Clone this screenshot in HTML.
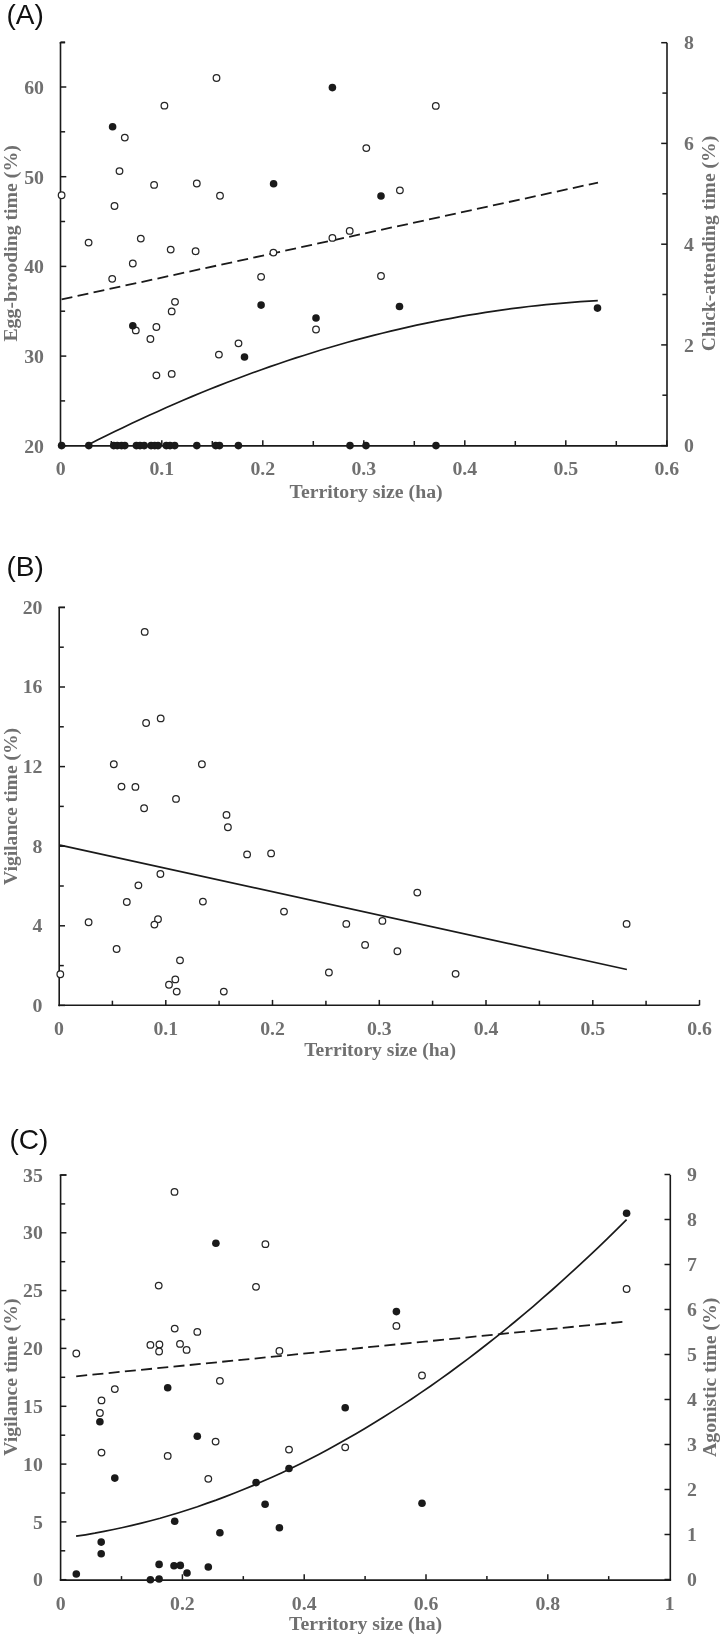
<!DOCTYPE html>
<html><head><meta charset="utf-8"><style>
html,body{margin:0;padding:0;background:#fff;width:722px;height:1637px;overflow:hidden}
svg{display:block}
</style></head><body>
<svg width="722" height="1637" viewBox="0 0 722 1637" style="will-change:transform">
<rect width="722" height="1637" fill="#fff"/>
<text x="8.0" y="23.5" text-anchor="start" font-family="'Liberation Sans', sans-serif" font-weight="normal" font-size="28" fill="#111" dx="-1.5">(A)</text>
<line x1="60.5" y1="42.7" x2="60.5" y2="446.5" stroke="#1a1a1a" stroke-width="1.6" />
<line x1="667.0" y1="42.7" x2="667.0" y2="446.5" stroke="#1a1a1a" stroke-width="1.6" />
<line x1="59.7" y1="445.9" x2="667.8" y2="445.9" stroke="#1a1a1a" stroke-width="1.6" />
<line x1="60.5" y1="445.8" x2="66.3" y2="445.8" stroke="#1a1a1a" stroke-width="1.5" />
<text x="44.0" y="452.6" text-anchor="end" font-family="'Liberation Serif', serif" font-weight="bold" font-size="19.8" fill="#707070" >20</text>
<line x1="60.5" y1="400.9" x2="65.1" y2="400.9" stroke="#1a1a1a" stroke-width="1.5" />
<line x1="60.5" y1="356.1" x2="66.3" y2="356.1" stroke="#1a1a1a" stroke-width="1.5" />
<text x="44.0" y="362.9" text-anchor="end" font-family="'Liberation Serif', serif" font-weight="bold" font-size="19.8" fill="#707070" >30</text>
<line x1="60.5" y1="311.2" x2="65.1" y2="311.2" stroke="#1a1a1a" stroke-width="1.5" />
<line x1="60.5" y1="266.4" x2="66.3" y2="266.4" stroke="#1a1a1a" stroke-width="1.5" />
<text x="44.0" y="273.2" text-anchor="end" font-family="'Liberation Serif', serif" font-weight="bold" font-size="19.8" fill="#707070" >40</text>
<line x1="60.5" y1="221.5" x2="65.1" y2="221.5" stroke="#1a1a1a" stroke-width="1.5" />
<line x1="60.5" y1="176.7" x2="66.3" y2="176.7" stroke="#1a1a1a" stroke-width="1.5" />
<text x="44.0" y="183.5" text-anchor="end" font-family="'Liberation Serif', serif" font-weight="bold" font-size="19.8" fill="#707070" >50</text>
<line x1="60.5" y1="131.8" x2="65.1" y2="131.8" stroke="#1a1a1a" stroke-width="1.5" />
<line x1="60.5" y1="87.0" x2="66.3" y2="87.0" stroke="#1a1a1a" stroke-width="1.5" />
<text x="44.0" y="93.8" text-anchor="end" font-family="'Liberation Serif', serif" font-weight="bold" font-size="19.8" fill="#707070" >60</text>
<line x1="60.5" y1="42.1" x2="65.1" y2="42.1" stroke="#1a1a1a" stroke-width="1.5" />
<line x1="59.6" y1="42.7" x2="65.1" y2="42.7" stroke="#1a1a1a" stroke-width="1.5" />
<line x1="661.2" y1="445.6" x2="667.0" y2="445.6" stroke="#1a1a1a" stroke-width="1.5" />
<text x="684.0" y="452.2" text-anchor="start" font-family="'Liberation Serif', serif" font-weight="bold" font-size="19.8" fill="#707070" >0</text>
<line x1="662.4" y1="395.2" x2="667.0" y2="395.2" stroke="#1a1a1a" stroke-width="1.5" />
<line x1="661.2" y1="344.9" x2="667.0" y2="344.9" stroke="#1a1a1a" stroke-width="1.5" />
<text x="684.0" y="351.5" text-anchor="start" font-family="'Liberation Serif', serif" font-weight="bold" font-size="19.8" fill="#707070" >2</text>
<line x1="662.4" y1="294.5" x2="667.0" y2="294.5" stroke="#1a1a1a" stroke-width="1.5" />
<line x1="661.2" y1="244.2" x2="667.0" y2="244.2" stroke="#1a1a1a" stroke-width="1.5" />
<text x="684.0" y="250.8" text-anchor="start" font-family="'Liberation Serif', serif" font-weight="bold" font-size="19.8" fill="#707070" >4</text>
<line x1="662.4" y1="193.8" x2="667.0" y2="193.8" stroke="#1a1a1a" stroke-width="1.5" />
<line x1="661.2" y1="143.4" x2="667.0" y2="143.4" stroke="#1a1a1a" stroke-width="1.5" />
<text x="684.0" y="150.0" text-anchor="start" font-family="'Liberation Serif', serif" font-weight="bold" font-size="19.8" fill="#707070" >6</text>
<line x1="662.4" y1="93.1" x2="667.0" y2="93.1" stroke="#1a1a1a" stroke-width="1.5" />
<line x1="661.2" y1="42.7" x2="667.0" y2="42.7" stroke="#1a1a1a" stroke-width="1.5" />
<text x="684.0" y="49.3" text-anchor="start" font-family="'Liberation Serif', serif" font-weight="bold" font-size="19.8" fill="#707070" >8</text>
<line x1="111.3" y1="445.6" x2="111.3" y2="441.0" stroke="#1a1a1a" stroke-width="1.5" />
<line x1="161.8" y1="445.6" x2="161.8" y2="440.2" stroke="#1a1a1a" stroke-width="1.5" />
<line x1="212.3" y1="445.6" x2="212.3" y2="441.0" stroke="#1a1a1a" stroke-width="1.5" />
<line x1="262.8" y1="445.6" x2="262.8" y2="440.2" stroke="#1a1a1a" stroke-width="1.5" />
<line x1="313.3" y1="445.6" x2="313.3" y2="441.0" stroke="#1a1a1a" stroke-width="1.5" />
<line x1="363.8" y1="445.6" x2="363.8" y2="440.2" stroke="#1a1a1a" stroke-width="1.5" />
<line x1="414.3" y1="445.6" x2="414.3" y2="441.0" stroke="#1a1a1a" stroke-width="1.5" />
<line x1="464.8" y1="445.6" x2="464.8" y2="440.2" stroke="#1a1a1a" stroke-width="1.5" />
<line x1="515.3" y1="445.6" x2="515.3" y2="441.0" stroke="#1a1a1a" stroke-width="1.5" />
<line x1="565.8" y1="445.6" x2="565.8" y2="440.2" stroke="#1a1a1a" stroke-width="1.5" />
<line x1="616.3" y1="445.6" x2="616.3" y2="441.0" stroke="#1a1a1a" stroke-width="1.5" />
<line x1="666.8" y1="445.6" x2="666.8" y2="440.2" stroke="#1a1a1a" stroke-width="1.5" />
<text x="60.8" y="475.2" text-anchor="middle" font-family="'Liberation Serif', serif" font-weight="bold" font-size="19.8" fill="#707070" >0</text>
<text x="161.8" y="475.2" text-anchor="middle" font-family="'Liberation Serif', serif" font-weight="bold" font-size="19.8" fill="#707070" >0.1</text>
<text x="262.8" y="475.2" text-anchor="middle" font-family="'Liberation Serif', serif" font-weight="bold" font-size="19.8" fill="#707070" >0.2</text>
<text x="363.8" y="475.2" text-anchor="middle" font-family="'Liberation Serif', serif" font-weight="bold" font-size="19.8" fill="#707070" >0.3</text>
<text x="464.8" y="475.2" text-anchor="middle" font-family="'Liberation Serif', serif" font-weight="bold" font-size="19.8" fill="#707070" >0.4</text>
<text x="565.8" y="475.2" text-anchor="middle" font-family="'Liberation Serif', serif" font-weight="bold" font-size="19.8" fill="#707070" >0.5</text>
<text x="666.8" y="475.2" text-anchor="middle" font-family="'Liberation Serif', serif" font-weight="bold" font-size="19.8" fill="#707070" >0.6</text>
<text x="366.1" y="498.4" text-anchor="middle" font-family="'Liberation Serif', serif" font-weight="bold" font-size="19.8" fill="#707070" >Territory size (ha)</text>
<text x="0.0" y="0.0" text-anchor="middle" font-family="'Liberation Serif', serif" font-weight="bold" font-size="19.8" fill="#707070" transform="translate(16.8,243.4) rotate(-90)">Egg-brooding time (%)</text>
<text x="0.0" y="0.0" text-anchor="middle" font-family="'Liberation Serif', serif" font-weight="bold" font-size="19.6" fill="#707070" transform="translate(714.6,243.6) rotate(-90)">Chick-attending time (%)</text>
<path d="M61.6,299.4 L598.0,182.6" fill="none" stroke="#1a1a1a" stroke-width="1.8" stroke-dasharray="11,5.35"/>
<path d="M88.8,444.5 L97.4,440.1 L106.1,435.8 L114.7,431.6 L123.3,427.4 L131.9,423.3 L140.6,419.2 L149.2,415.3 L157.8,411.4 L166.4,407.5 L175.1,403.7 L183.7,400.0 L192.3,396.4 L201.0,392.8 L209.6,389.3 L218.2,385.9 L226.8,382.5 L235.5,379.2 L244.1,376.0 L252.7,372.8 L261.3,369.7 L270.0,366.6 L278.6,363.7 L287.2,360.8 L295.9,357.9 L304.5,355.2 L313.1,352.5 L321.7,349.8 L330.4,347.2 L339.0,344.7 L347.6,342.3 L356.2,339.9 L364.9,337.6 L373.5,335.4 L382.1,333.2 L390.7,331.1 L399.4,329.1 L408.0,327.1 L416.6,325.2 L425.3,323.4 L433.9,321.6 L442.5,319.9 L451.1,318.3 L459.8,316.7 L468.4,315.2 L477.0,313.8 L485.6,312.4 L494.3,311.1 L502.9,309.8 L511.5,308.7 L520.2,307.6 L528.8,306.5 L537.4,305.6 L546.0,304.7 L554.7,303.8 L563.3,303.1 L571.9,302.4 L580.5,301.7 L589.2,301.2 L597.8,300.7" fill="none" stroke="#1a1a1a" stroke-width="1.7" />
<circle cx="88.6" cy="242.6" r="3.3" fill="#fff" stroke="#262626" stroke-width="1.25"/>
<circle cx="140.8" cy="238.6" r="3.3" fill="#fff" stroke="#262626" stroke-width="1.25"/>
<circle cx="170.7" cy="249.6" r="3.3" fill="#fff" stroke="#262626" stroke-width="1.25"/>
<circle cx="195.6" cy="251.2" r="3.3" fill="#fff" stroke="#262626" stroke-width="1.25"/>
<circle cx="273.4" cy="252.6" r="3.3" fill="#fff" stroke="#262626" stroke-width="1.25"/>
<circle cx="132.8" cy="263.5" r="3.3" fill="#fff" stroke="#262626" stroke-width="1.25"/>
<circle cx="112.2" cy="278.8" r="3.3" fill="#fff" stroke="#262626" stroke-width="1.25"/>
<circle cx="261.1" cy="276.8" r="3.3" fill="#fff" stroke="#262626" stroke-width="1.25"/>
<circle cx="175.0" cy="301.8" r="3.3" fill="#fff" stroke="#262626" stroke-width="1.25"/>
<circle cx="171.7" cy="311.4" r="3.3" fill="#fff" stroke="#262626" stroke-width="1.25"/>
<circle cx="135.8" cy="330.4" r="3.3" fill="#fff" stroke="#262626" stroke-width="1.25"/>
<circle cx="156.4" cy="327.0" r="3.3" fill="#fff" stroke="#262626" stroke-width="1.25"/>
<circle cx="150.4" cy="339.0" r="3.3" fill="#fff" stroke="#262626" stroke-width="1.25"/>
<circle cx="238.5" cy="343.3" r="3.3" fill="#fff" stroke="#262626" stroke-width="1.25"/>
<circle cx="218.9" cy="354.6" r="3.3" fill="#fff" stroke="#262626" stroke-width="1.25"/>
<circle cx="156.4" cy="375.3" r="3.3" fill="#fff" stroke="#262626" stroke-width="1.25"/>
<circle cx="171.7" cy="373.9" r="3.3" fill="#fff" stroke="#262626" stroke-width="1.25"/>
<circle cx="124.8" cy="137.6" r="3.3" fill="#fff" stroke="#262626" stroke-width="1.25"/>
<circle cx="164.4" cy="105.7" r="3.3" fill="#fff" stroke="#262626" stroke-width="1.25"/>
<circle cx="216.5" cy="78.0" r="3.3" fill="#fff" stroke="#262626" stroke-width="1.25"/>
<circle cx="119.5" cy="171.1" r="3.3" fill="#fff" stroke="#262626" stroke-width="1.25"/>
<circle cx="154.1" cy="184.9" r="3.3" fill="#fff" stroke="#262626" stroke-width="1.25"/>
<circle cx="196.8" cy="183.5" r="3.3" fill="#fff" stroke="#262626" stroke-width="1.25"/>
<circle cx="220.0" cy="195.7" r="3.3" fill="#fff" stroke="#262626" stroke-width="1.25"/>
<circle cx="61.6" cy="195.2" r="3.3" fill="#fff" stroke="#262626" stroke-width="1.25"/>
<circle cx="114.5" cy="206.0" r="3.3" fill="#fff" stroke="#262626" stroke-width="1.25"/>
<circle cx="435.8" cy="105.9" r="3.3" fill="#fff" stroke="#262626" stroke-width="1.25"/>
<circle cx="366.3" cy="148.1" r="3.3" fill="#fff" stroke="#262626" stroke-width="1.25"/>
<circle cx="399.9" cy="190.3" r="3.3" fill="#fff" stroke="#262626" stroke-width="1.25"/>
<circle cx="349.7" cy="230.9" r="3.3" fill="#fff" stroke="#262626" stroke-width="1.25"/>
<circle cx="332.4" cy="237.9" r="3.3" fill="#fff" stroke="#262626" stroke-width="1.25"/>
<circle cx="381.0" cy="276.0" r="3.3" fill="#fff" stroke="#262626" stroke-width="1.25"/>
<circle cx="316.0" cy="329.5" r="3.3" fill="#fff" stroke="#262626" stroke-width="1.25"/>
<circle cx="112.6" cy="126.8" r="3.8" fill="#1a1a1a"/>
<circle cx="332.4" cy="87.6" r="3.8" fill="#1a1a1a"/>
<circle cx="273.6" cy="183.7" r="3.8" fill="#1a1a1a"/>
<circle cx="381.0" cy="196.0" r="3.8" fill="#1a1a1a"/>
<circle cx="261.1" cy="305.1" r="3.8" fill="#1a1a1a"/>
<circle cx="132.8" cy="325.7" r="3.8" fill="#1a1a1a"/>
<circle cx="244.5" cy="357.0" r="3.8" fill="#1a1a1a"/>
<circle cx="316.0" cy="318.0" r="3.8" fill="#1a1a1a"/>
<circle cx="399.5" cy="306.5" r="3.8" fill="#1a1a1a"/>
<circle cx="597.5" cy="308.1" r="3.8" fill="#1a1a1a"/>
<circle cx="61.6" cy="445.6" r="3.8" fill="#1a1a1a"/>
<circle cx="88.8" cy="445.6" r="3.8" fill="#1a1a1a"/>
<circle cx="113.7" cy="445.6" r="3.8" fill="#1a1a1a"/>
<circle cx="117.3" cy="445.6" r="3.8" fill="#1a1a1a"/>
<circle cx="121.5" cy="445.6" r="3.8" fill="#1a1a1a"/>
<circle cx="124.8" cy="445.6" r="3.8" fill="#1a1a1a"/>
<circle cx="136.4" cy="445.6" r="3.8" fill="#1a1a1a"/>
<circle cx="140.0" cy="445.6" r="3.8" fill="#1a1a1a"/>
<circle cx="144.2" cy="445.6" r="3.8" fill="#1a1a1a"/>
<circle cx="151.1" cy="445.6" r="3.8" fill="#1a1a1a"/>
<circle cx="154.7" cy="445.6" r="3.8" fill="#1a1a1a"/>
<circle cx="158.0" cy="445.6" r="3.8" fill="#1a1a1a"/>
<circle cx="166.3" cy="445.6" r="3.8" fill="#1a1a1a"/>
<circle cx="170.0" cy="445.6" r="3.8" fill="#1a1a1a"/>
<circle cx="174.7" cy="445.6" r="3.8" fill="#1a1a1a"/>
<circle cx="196.8" cy="445.6" r="3.8" fill="#1a1a1a"/>
<circle cx="215.7" cy="445.6" r="3.8" fill="#1a1a1a"/>
<circle cx="219.5" cy="445.6" r="3.8" fill="#1a1a1a"/>
<circle cx="238.4" cy="445.6" r="3.8" fill="#1a1a1a"/>
<circle cx="350.0" cy="445.6" r="3.8" fill="#1a1a1a"/>
<circle cx="366.0" cy="445.6" r="3.8" fill="#1a1a1a"/>
<circle cx="436.0" cy="445.6" r="3.8" fill="#1a1a1a"/>
<text x="8.0" y="576.4" text-anchor="start" font-family="'Liberation Sans', sans-serif" font-weight="normal" font-size="28" fill="#111" dx="-1.5">(B)</text>
<line x1="59.2" y1="607.4" x2="59.2" y2="1006.2" stroke="#1a1a1a" stroke-width="1.6" />
<line x1="58.3" y1="1005.3" x2="699.5" y2="1005.3" stroke="#1a1a1a" stroke-width="1.6" />
<line x1="59.2" y1="1005.4" x2="65.0" y2="1005.4" stroke="#1a1a1a" stroke-width="1.5" />
<text x="42.5" y="1011.8" text-anchor="end" font-family="'Liberation Serif', serif" font-weight="bold" font-size="19.8" fill="#707070" >0</text>
<line x1="59.2" y1="965.6" x2="63.8" y2="965.6" stroke="#1a1a1a" stroke-width="1.5" />
<line x1="59.2" y1="925.8" x2="65.0" y2="925.8" stroke="#1a1a1a" stroke-width="1.5" />
<text x="42.5" y="932.2" text-anchor="end" font-family="'Liberation Serif', serif" font-weight="bold" font-size="19.8" fill="#707070" >4</text>
<line x1="59.2" y1="886.0" x2="63.8" y2="886.0" stroke="#1a1a1a" stroke-width="1.5" />
<line x1="59.2" y1="846.2" x2="65.0" y2="846.2" stroke="#1a1a1a" stroke-width="1.5" />
<text x="42.5" y="852.6" text-anchor="end" font-family="'Liberation Serif', serif" font-weight="bold" font-size="19.8" fill="#707070" >8</text>
<line x1="59.2" y1="806.4" x2="63.8" y2="806.4" stroke="#1a1a1a" stroke-width="1.5" />
<line x1="59.2" y1="766.6" x2="65.0" y2="766.6" stroke="#1a1a1a" stroke-width="1.5" />
<text x="42.5" y="773.0" text-anchor="end" font-family="'Liberation Serif', serif" font-weight="bold" font-size="19.8" fill="#707070" >12</text>
<line x1="59.2" y1="726.8" x2="63.8" y2="726.8" stroke="#1a1a1a" stroke-width="1.5" />
<line x1="59.2" y1="687.0" x2="65.0" y2="687.0" stroke="#1a1a1a" stroke-width="1.5" />
<text x="42.5" y="693.4" text-anchor="end" font-family="'Liberation Serif', serif" font-weight="bold" font-size="19.8" fill="#707070" >16</text>
<line x1="59.2" y1="647.2" x2="63.8" y2="647.2" stroke="#1a1a1a" stroke-width="1.5" />
<line x1="59.2" y1="607.4" x2="65.0" y2="607.4" stroke="#1a1a1a" stroke-width="1.5" />
<text x="42.5" y="613.8" text-anchor="end" font-family="'Liberation Serif', serif" font-weight="bold" font-size="19.8" fill="#707070" >20</text>
<line x1="58.3" y1="607.4" x2="65.0" y2="607.4" stroke="#1a1a1a" stroke-width="1.5" />
<line x1="112.4" y1="1005.3" x2="112.4" y2="1000.7" stroke="#1a1a1a" stroke-width="1.5" />
<line x1="165.8" y1="1005.3" x2="165.8" y2="999.9" stroke="#1a1a1a" stroke-width="1.5" />
<line x1="219.1" y1="1005.3" x2="219.1" y2="1000.7" stroke="#1a1a1a" stroke-width="1.5" />
<line x1="272.5" y1="1005.3" x2="272.5" y2="999.9" stroke="#1a1a1a" stroke-width="1.5" />
<line x1="325.9" y1="1005.3" x2="325.9" y2="1000.7" stroke="#1a1a1a" stroke-width="1.5" />
<line x1="379.3" y1="1005.3" x2="379.3" y2="999.9" stroke="#1a1a1a" stroke-width="1.5" />
<line x1="432.6" y1="1005.3" x2="432.6" y2="1000.7" stroke="#1a1a1a" stroke-width="1.5" />
<line x1="486.0" y1="1005.3" x2="486.0" y2="999.9" stroke="#1a1a1a" stroke-width="1.5" />
<line x1="539.4" y1="1005.3" x2="539.4" y2="1000.7" stroke="#1a1a1a" stroke-width="1.5" />
<line x1="592.8" y1="1005.3" x2="592.8" y2="999.9" stroke="#1a1a1a" stroke-width="1.5" />
<line x1="646.1" y1="1005.3" x2="646.1" y2="1000.7" stroke="#1a1a1a" stroke-width="1.5" />
<line x1="699.5" y1="1005.3" x2="699.5" y2="999.9" stroke="#1a1a1a" stroke-width="1.5" />
<text x="59.0" y="1035.2" text-anchor="middle" font-family="'Liberation Serif', serif" font-weight="bold" font-size="19.8" fill="#707070" >0</text>
<text x="165.8" y="1035.2" text-anchor="middle" font-family="'Liberation Serif', serif" font-weight="bold" font-size="19.8" fill="#707070" >0.1</text>
<text x="272.5" y="1035.2" text-anchor="middle" font-family="'Liberation Serif', serif" font-weight="bold" font-size="19.8" fill="#707070" >0.2</text>
<text x="379.3" y="1035.2" text-anchor="middle" font-family="'Liberation Serif', serif" font-weight="bold" font-size="19.8" fill="#707070" >0.3</text>
<text x="486.0" y="1035.2" text-anchor="middle" font-family="'Liberation Serif', serif" font-weight="bold" font-size="19.8" fill="#707070" >0.4</text>
<text x="592.8" y="1035.2" text-anchor="middle" font-family="'Liberation Serif', serif" font-weight="bold" font-size="19.8" fill="#707070" >0.5</text>
<text x="699.5" y="1035.2" text-anchor="middle" font-family="'Liberation Serif', serif" font-weight="bold" font-size="19.8" fill="#707070" >0.6</text>
<text x="380.1" y="1056.4" text-anchor="middle" font-family="'Liberation Serif', serif" font-weight="bold" font-size="19.6" fill="#707070" >Territory size (ha)</text>
<text x="0.0" y="0.0" text-anchor="middle" font-family="'Liberation Serif', serif" font-weight="bold" font-size="19.6" fill="#707070" transform="translate(16.5,806.4) rotate(-90)">Vigilance time (%)</text>
<path d="M60.0,845.2 L626.9,969.5" fill="none" stroke="#1a1a1a" stroke-width="1.7" />
<circle cx="144.7" cy="631.9" r="3.3" fill="#fff" stroke="#262626" stroke-width="1.25"/>
<circle cx="146.1" cy="723.0" r="3.3" fill="#fff" stroke="#262626" stroke-width="1.25"/>
<circle cx="160.7" cy="718.4" r="3.3" fill="#fff" stroke="#262626" stroke-width="1.25"/>
<circle cx="113.8" cy="764.2" r="3.3" fill="#fff" stroke="#262626" stroke-width="1.25"/>
<circle cx="201.9" cy="764.2" r="3.3" fill="#fff" stroke="#262626" stroke-width="1.25"/>
<circle cx="121.5" cy="786.6" r="3.3" fill="#fff" stroke="#262626" stroke-width="1.25"/>
<circle cx="135.4" cy="786.9" r="3.3" fill="#fff" stroke="#262626" stroke-width="1.25"/>
<circle cx="144.1" cy="808.2" r="3.3" fill="#fff" stroke="#262626" stroke-width="1.25"/>
<circle cx="176.0" cy="798.9" r="3.3" fill="#fff" stroke="#262626" stroke-width="1.25"/>
<circle cx="226.5" cy="814.9" r="3.3" fill="#fff" stroke="#262626" stroke-width="1.25"/>
<circle cx="227.9" cy="827.2" r="3.3" fill="#fff" stroke="#262626" stroke-width="1.25"/>
<circle cx="247.1" cy="854.4" r="3.3" fill="#fff" stroke="#262626" stroke-width="1.25"/>
<circle cx="271.1" cy="853.4" r="3.3" fill="#fff" stroke="#262626" stroke-width="1.25"/>
<circle cx="160.4" cy="874.0" r="3.3" fill="#fff" stroke="#262626" stroke-width="1.25"/>
<circle cx="138.4" cy="885.3" r="3.3" fill="#fff" stroke="#262626" stroke-width="1.25"/>
<circle cx="126.8" cy="902.0" r="3.3" fill="#fff" stroke="#262626" stroke-width="1.25"/>
<circle cx="202.9" cy="901.6" r="3.3" fill="#fff" stroke="#262626" stroke-width="1.25"/>
<circle cx="284.0" cy="911.6" r="3.3" fill="#fff" stroke="#262626" stroke-width="1.25"/>
<circle cx="88.6" cy="922.2" r="3.3" fill="#fff" stroke="#262626" stroke-width="1.25"/>
<circle cx="158.0" cy="919.2" r="3.3" fill="#fff" stroke="#262626" stroke-width="1.25"/>
<circle cx="154.4" cy="924.6" r="3.3" fill="#fff" stroke="#262626" stroke-width="1.25"/>
<circle cx="417.3" cy="892.6" r="3.3" fill="#fff" stroke="#262626" stroke-width="1.25"/>
<circle cx="346.3" cy="923.9" r="3.3" fill="#fff" stroke="#262626" stroke-width="1.25"/>
<circle cx="382.4" cy="920.9" r="3.3" fill="#fff" stroke="#262626" stroke-width="1.25"/>
<circle cx="626.6" cy="923.9" r="3.3" fill="#fff" stroke="#262626" stroke-width="1.25"/>
<circle cx="365.1" cy="944.9" r="3.3" fill="#fff" stroke="#262626" stroke-width="1.25"/>
<circle cx="397.4" cy="951.2" r="3.3" fill="#fff" stroke="#262626" stroke-width="1.25"/>
<circle cx="328.9" cy="972.5" r="3.3" fill="#fff" stroke="#262626" stroke-width="1.25"/>
<circle cx="455.6" cy="973.8" r="3.3" fill="#fff" stroke="#262626" stroke-width="1.25"/>
<circle cx="116.6" cy="949.0" r="3.3" fill="#fff" stroke="#262626" stroke-width="1.25"/>
<circle cx="180.0" cy="960.3" r="3.3" fill="#fff" stroke="#262626" stroke-width="1.25"/>
<circle cx="175.3" cy="979.4" r="3.3" fill="#fff" stroke="#262626" stroke-width="1.25"/>
<circle cx="169.0" cy="984.7" r="3.3" fill="#fff" stroke="#262626" stroke-width="1.25"/>
<circle cx="176.7" cy="991.6" r="3.3" fill="#fff" stroke="#262626" stroke-width="1.25"/>
<circle cx="223.8" cy="991.6" r="3.3" fill="#fff" stroke="#262626" stroke-width="1.25"/>
<circle cx="60.3" cy="974.2" r="3.3" fill="#fff" stroke="#262626" stroke-width="1.25"/>
<text x="11.0" y="1148.8" text-anchor="start" font-family="'Liberation Sans', sans-serif" font-weight="normal" font-size="28" fill="#111" dx="-1.5">(C)</text>
<line x1="60.6" y1="1175.0" x2="60.6" y2="1580.6" stroke="#1a1a1a" stroke-width="1.6" />
<line x1="670.3" y1="1175.0" x2="670.3" y2="1580.6" stroke="#1a1a1a" stroke-width="1.6" />
<line x1="59.8" y1="1580.1" x2="671.1" y2="1580.1" stroke="#1a1a1a" stroke-width="1.6" />
<line x1="60.6" y1="1579.7" x2="66.4" y2="1579.7" stroke="#1a1a1a" stroke-width="1.5" />
<text x="42.8" y="1586.3" text-anchor="end" font-family="'Liberation Serif', serif" font-weight="bold" font-size="19.8" fill="#707070" >0</text>
<line x1="60.6" y1="1550.8" x2="65.2" y2="1550.8" stroke="#1a1a1a" stroke-width="1.5" />
<line x1="60.6" y1="1521.9" x2="66.4" y2="1521.9" stroke="#1a1a1a" stroke-width="1.5" />
<text x="42.8" y="1528.5" text-anchor="end" font-family="'Liberation Serif', serif" font-weight="bold" font-size="19.8" fill="#707070" >5</text>
<line x1="60.6" y1="1493.0" x2="65.2" y2="1493.0" stroke="#1a1a1a" stroke-width="1.5" />
<line x1="60.6" y1="1464.1" x2="66.4" y2="1464.1" stroke="#1a1a1a" stroke-width="1.5" />
<text x="42.8" y="1470.7" text-anchor="end" font-family="'Liberation Serif', serif" font-weight="bold" font-size="19.8" fill="#707070" >10</text>
<line x1="60.6" y1="1435.2" x2="65.2" y2="1435.2" stroke="#1a1a1a" stroke-width="1.5" />
<line x1="60.6" y1="1406.3" x2="66.4" y2="1406.3" stroke="#1a1a1a" stroke-width="1.5" />
<text x="42.8" y="1412.9" text-anchor="end" font-family="'Liberation Serif', serif" font-weight="bold" font-size="19.8" fill="#707070" >15</text>
<line x1="60.6" y1="1377.3" x2="65.2" y2="1377.3" stroke="#1a1a1a" stroke-width="1.5" />
<line x1="60.6" y1="1348.4" x2="66.4" y2="1348.4" stroke="#1a1a1a" stroke-width="1.5" />
<text x="42.8" y="1355.0" text-anchor="end" font-family="'Liberation Serif', serif" font-weight="bold" font-size="19.8" fill="#707070" >20</text>
<line x1="60.6" y1="1319.5" x2="65.2" y2="1319.5" stroke="#1a1a1a" stroke-width="1.5" />
<line x1="60.6" y1="1290.6" x2="66.4" y2="1290.6" stroke="#1a1a1a" stroke-width="1.5" />
<text x="42.8" y="1297.2" text-anchor="end" font-family="'Liberation Serif', serif" font-weight="bold" font-size="19.8" fill="#707070" >25</text>
<line x1="60.6" y1="1261.7" x2="65.2" y2="1261.7" stroke="#1a1a1a" stroke-width="1.5" />
<line x1="60.6" y1="1232.8" x2="66.4" y2="1232.8" stroke="#1a1a1a" stroke-width="1.5" />
<text x="42.8" y="1239.4" text-anchor="end" font-family="'Liberation Serif', serif" font-weight="bold" font-size="19.8" fill="#707070" >30</text>
<line x1="60.6" y1="1203.9" x2="65.2" y2="1203.9" stroke="#1a1a1a" stroke-width="1.5" />
<line x1="60.6" y1="1175.0" x2="66.4" y2="1175.0" stroke="#1a1a1a" stroke-width="1.5" />
<text x="42.8" y="1181.6" text-anchor="end" font-family="'Liberation Serif', serif" font-weight="bold" font-size="19.8" fill="#707070" >35</text>
<line x1="59.7" y1="1175.0" x2="66.4" y2="1175.0" stroke="#1a1a1a" stroke-width="1.5" />
<line x1="664.5" y1="1579.5" x2="670.3" y2="1579.5" stroke="#1a1a1a" stroke-width="1.5" />
<text x="687.0" y="1586.1" text-anchor="start" font-family="'Liberation Serif', serif" font-weight="bold" font-size="19.8" fill="#707070" >0</text>
<line x1="664.5" y1="1534.5" x2="670.3" y2="1534.5" stroke="#1a1a1a" stroke-width="1.5" />
<text x="687.0" y="1541.1" text-anchor="start" font-family="'Liberation Serif', serif" font-weight="bold" font-size="19.8" fill="#707070" >1</text>
<line x1="664.5" y1="1489.5" x2="670.3" y2="1489.5" stroke="#1a1a1a" stroke-width="1.5" />
<text x="687.0" y="1496.1" text-anchor="start" font-family="'Liberation Serif', serif" font-weight="bold" font-size="19.8" fill="#707070" >2</text>
<line x1="664.5" y1="1444.5" x2="670.3" y2="1444.5" stroke="#1a1a1a" stroke-width="1.5" />
<text x="687.0" y="1451.1" text-anchor="start" font-family="'Liberation Serif', serif" font-weight="bold" font-size="19.8" fill="#707070" >3</text>
<line x1="664.5" y1="1399.5" x2="670.3" y2="1399.5" stroke="#1a1a1a" stroke-width="1.5" />
<text x="687.0" y="1406.1" text-anchor="start" font-family="'Liberation Serif', serif" font-weight="bold" font-size="19.8" fill="#707070" >4</text>
<line x1="664.5" y1="1354.5" x2="670.3" y2="1354.5" stroke="#1a1a1a" stroke-width="1.5" />
<text x="687.0" y="1361.1" text-anchor="start" font-family="'Liberation Serif', serif" font-weight="bold" font-size="19.8" fill="#707070" >5</text>
<line x1="664.5" y1="1309.5" x2="670.3" y2="1309.5" stroke="#1a1a1a" stroke-width="1.5" />
<text x="687.0" y="1316.1" text-anchor="start" font-family="'Liberation Serif', serif" font-weight="bold" font-size="19.8" fill="#707070" >6</text>
<line x1="664.5" y1="1264.5" x2="670.3" y2="1264.5" stroke="#1a1a1a" stroke-width="1.5" />
<text x="687.0" y="1271.1" text-anchor="start" font-family="'Liberation Serif', serif" font-weight="bold" font-size="19.8" fill="#707070" >7</text>
<line x1="664.5" y1="1219.5" x2="670.3" y2="1219.5" stroke="#1a1a1a" stroke-width="1.5" />
<text x="687.0" y="1226.1" text-anchor="start" font-family="'Liberation Serif', serif" font-weight="bold" font-size="19.8" fill="#707070" >8</text>
<line x1="664.5" y1="1174.5" x2="670.3" y2="1174.5" stroke="#1a1a1a" stroke-width="1.5" />
<text x="687.0" y="1181.1" text-anchor="start" font-family="'Liberation Serif', serif" font-weight="bold" font-size="19.8" fill="#707070" >9</text>
<line x1="121.5" y1="1579.7" x2="121.5" y2="1576.1" stroke="#1a1a1a" stroke-width="1.5" />
<line x1="182.4" y1="1579.7" x2="182.4" y2="1574.3" stroke="#1a1a1a" stroke-width="1.5" />
<line x1="243.3" y1="1579.7" x2="243.3" y2="1576.1" stroke="#1a1a1a" stroke-width="1.5" />
<line x1="304.2" y1="1579.7" x2="304.2" y2="1574.3" stroke="#1a1a1a" stroke-width="1.5" />
<line x1="365.1" y1="1579.7" x2="365.1" y2="1576.1" stroke="#1a1a1a" stroke-width="1.5" />
<line x1="426.0" y1="1579.7" x2="426.0" y2="1574.3" stroke="#1a1a1a" stroke-width="1.5" />
<line x1="486.9" y1="1579.7" x2="486.9" y2="1576.1" stroke="#1a1a1a" stroke-width="1.5" />
<line x1="547.8" y1="1579.7" x2="547.8" y2="1574.3" stroke="#1a1a1a" stroke-width="1.5" />
<line x1="608.7" y1="1579.7" x2="608.7" y2="1576.1" stroke="#1a1a1a" stroke-width="1.5" />
<text x="60.6" y="1609.6" text-anchor="middle" font-family="'Liberation Serif', serif" font-weight="bold" font-size="19.8" fill="#707070" >0</text>
<text x="182.4" y="1609.6" text-anchor="middle" font-family="'Liberation Serif', serif" font-weight="bold" font-size="19.8" fill="#707070" >0.2</text>
<text x="304.2" y="1609.6" text-anchor="middle" font-family="'Liberation Serif', serif" font-weight="bold" font-size="19.8" fill="#707070" >0.4</text>
<text x="426.0" y="1609.6" text-anchor="middle" font-family="'Liberation Serif', serif" font-weight="bold" font-size="19.8" fill="#707070" >0.6</text>
<text x="547.8" y="1609.6" text-anchor="middle" font-family="'Liberation Serif', serif" font-weight="bold" font-size="19.8" fill="#707070" >0.8</text>
<text x="669.6" y="1609.6" text-anchor="middle" font-family="'Liberation Serif', serif" font-weight="bold" font-size="19.8" fill="#707070" >1</text>
<text x="365.6" y="1630.2" text-anchor="middle" font-family="'Liberation Serif', serif" font-weight="bold" font-size="19.8" fill="#707070" >Territory size (ha)</text>
<text x="0.0" y="0.0" text-anchor="middle" font-family="'Liberation Serif', serif" font-weight="bold" font-size="19.6" fill="#707070" transform="translate(16.8,1377.1) rotate(-90)">Vigilance time (%)</text>
<text x="0.0" y="0.0" text-anchor="middle" font-family="'Liberation Serif', serif" font-weight="bold" font-size="19.8" fill="#707070" transform="translate(716,1377.3) rotate(-90)">Agonistic time (%)</text>
<path d="M76.2,1376.3 L623.3,1321.8" fill="none" stroke="#1a1a1a" stroke-width="1.8" stroke-dasharray="11,5.3"/>
<path d="M76.1,1536.2 L85.4,1534.8 L94.8,1533.2 L104.1,1531.4 L113.4,1529.5 L122.8,1527.5 L132.1,1525.4 L141.4,1523.1 L150.7,1520.7 L160.1,1518.2 L169.4,1515.5 L178.7,1512.7 L188.1,1509.7 L197.4,1506.7 L206.7,1503.4 L216.1,1500.1 L225.4,1496.6 L234.7,1493.0 L244.0,1489.2 L253.4,1485.4 L262.7,1481.3 L272.0,1477.2 L281.4,1472.9 L290.7,1468.5 L300.0,1463.9 L309.4,1459.2 L318.7,1454.4 L328.0,1449.4 L337.4,1444.3 L346.7,1439.1 L356.0,1433.7 L365.3,1428.2 L374.7,1422.6 L384.0,1416.8 L393.3,1410.9 L402.7,1404.9 L412.0,1398.7 L421.3,1392.4 L430.7,1386.0 L440.0,1379.4 L449.3,1372.7 L458.7,1365.8 L468.0,1358.9 L477.3,1351.8 L486.6,1344.5 L496.0,1337.1 L505.3,1329.6 L514.6,1322.0 L524.0,1314.2 L533.3,1306.3 L542.6,1298.2 L552.0,1290.0 L561.3,1281.7 L570.6,1273.2 L579.9,1264.6 L589.3,1255.9 L598.6,1247.1 L607.9,1238.1 L617.3,1228.9 L626.6,1219.7" fill="none" stroke="#1a1a1a" stroke-width="1.7" />
<circle cx="174.5" cy="1191.9" r="3.3" fill="#fff" stroke="#262626" stroke-width="1.25"/>
<circle cx="265.4" cy="1244.2" r="3.3" fill="#fff" stroke="#262626" stroke-width="1.25"/>
<circle cx="158.7" cy="1285.6" r="3.3" fill="#fff" stroke="#262626" stroke-width="1.25"/>
<circle cx="256.0" cy="1286.8" r="3.3" fill="#fff" stroke="#262626" stroke-width="1.25"/>
<circle cx="76.3" cy="1353.5" r="3.3" fill="#fff" stroke="#262626" stroke-width="1.25"/>
<circle cx="150.4" cy="1344.9" r="3.3" fill="#fff" stroke="#262626" stroke-width="1.25"/>
<circle cx="159.4" cy="1344.5" r="3.3" fill="#fff" stroke="#262626" stroke-width="1.25"/>
<circle cx="159.1" cy="1351.5" r="3.3" fill="#fff" stroke="#262626" stroke-width="1.25"/>
<circle cx="174.7" cy="1328.6" r="3.3" fill="#fff" stroke="#262626" stroke-width="1.25"/>
<circle cx="180.0" cy="1343.9" r="3.3" fill="#fff" stroke="#262626" stroke-width="1.25"/>
<circle cx="186.6" cy="1349.9" r="3.3" fill="#fff" stroke="#262626" stroke-width="1.25"/>
<circle cx="197.3" cy="1331.9" r="3.3" fill="#fff" stroke="#262626" stroke-width="1.25"/>
<circle cx="279.4" cy="1350.9" r="3.3" fill="#fff" stroke="#262626" stroke-width="1.25"/>
<circle cx="219.9" cy="1380.8" r="3.3" fill="#fff" stroke="#262626" stroke-width="1.25"/>
<circle cx="114.8" cy="1389.1" r="3.3" fill="#fff" stroke="#262626" stroke-width="1.25"/>
<circle cx="101.5" cy="1400.4" r="3.3" fill="#fff" stroke="#262626" stroke-width="1.25"/>
<circle cx="99.9" cy="1413.0" r="3.3" fill="#fff" stroke="#262626" stroke-width="1.25"/>
<circle cx="215.6" cy="1441.6" r="3.3" fill="#fff" stroke="#262626" stroke-width="1.25"/>
<circle cx="101.5" cy="1452.6" r="3.3" fill="#fff" stroke="#262626" stroke-width="1.25"/>
<circle cx="167.7" cy="1455.9" r="3.3" fill="#fff" stroke="#262626" stroke-width="1.25"/>
<circle cx="289.0" cy="1449.6" r="3.3" fill="#fff" stroke="#262626" stroke-width="1.25"/>
<circle cx="208.3" cy="1478.8" r="3.3" fill="#fff" stroke="#262626" stroke-width="1.25"/>
<circle cx="396.4" cy="1325.9" r="3.3" fill="#fff" stroke="#262626" stroke-width="1.25"/>
<circle cx="422.0" cy="1375.5" r="3.3" fill="#fff" stroke="#262626" stroke-width="1.25"/>
<circle cx="345.2" cy="1447.3" r="3.3" fill="#fff" stroke="#262626" stroke-width="1.25"/>
<circle cx="626.6" cy="1289.0" r="3.3" fill="#fff" stroke="#262626" stroke-width="1.25"/>
<circle cx="215.9" cy="1243.2" r="3.8" fill="#1a1a1a"/>
<circle cx="167.7" cy="1387.8" r="3.8" fill="#1a1a1a"/>
<circle cx="99.9" cy="1421.7" r="3.8" fill="#1a1a1a"/>
<circle cx="197.3" cy="1436.3" r="3.8" fill="#1a1a1a"/>
<circle cx="289.0" cy="1468.5" r="3.8" fill="#1a1a1a"/>
<circle cx="114.8" cy="1478.1" r="3.8" fill="#1a1a1a"/>
<circle cx="256.1" cy="1482.6" r="3.8" fill="#1a1a1a"/>
<circle cx="265.1" cy="1504.2" r="3.8" fill="#1a1a1a"/>
<circle cx="174.7" cy="1521.2" r="3.8" fill="#1a1a1a"/>
<circle cx="219.9" cy="1532.8" r="3.8" fill="#1a1a1a"/>
<circle cx="279.4" cy="1527.8" r="3.8" fill="#1a1a1a"/>
<circle cx="101.2" cy="1542.1" r="3.8" fill="#1a1a1a"/>
<circle cx="101.2" cy="1553.8" r="3.8" fill="#1a1a1a"/>
<circle cx="76.3" cy="1574.0" r="3.8" fill="#1a1a1a"/>
<circle cx="159.1" cy="1564.4" r="3.8" fill="#1a1a1a"/>
<circle cx="174.0" cy="1565.7" r="3.8" fill="#1a1a1a"/>
<circle cx="180.3" cy="1565.4" r="3.8" fill="#1a1a1a"/>
<circle cx="187.0" cy="1573.0" r="3.8" fill="#1a1a1a"/>
<circle cx="208.3" cy="1567.0" r="3.8" fill="#1a1a1a"/>
<circle cx="150.4" cy="1579.7" r="3.8" fill="#1a1a1a"/>
<circle cx="159.1" cy="1579.0" r="3.8" fill="#1a1a1a"/>
<circle cx="396.4" cy="1311.6" r="3.8" fill="#1a1a1a"/>
<circle cx="345.2" cy="1407.8" r="3.8" fill="#1a1a1a"/>
<circle cx="422.0" cy="1503.2" r="3.8" fill="#1a1a1a"/>
<circle cx="626.6" cy="1213.2" r="3.8" fill="#1a1a1a"/>
</svg>
</body></html>
